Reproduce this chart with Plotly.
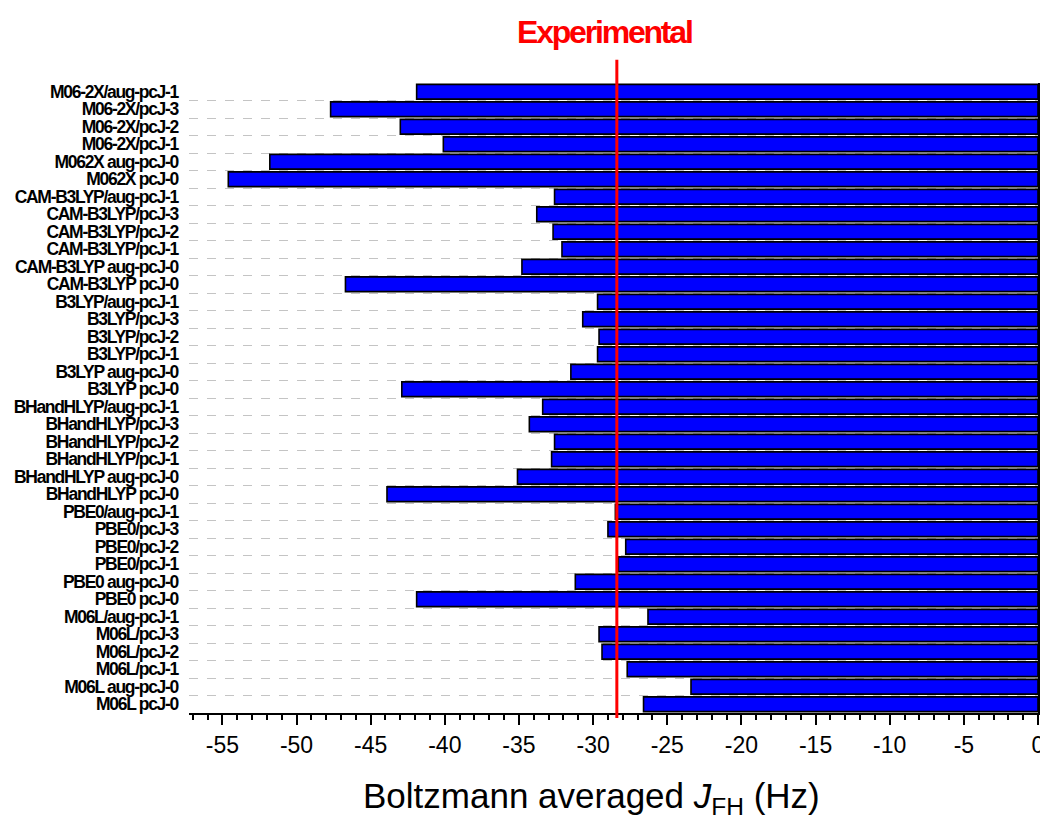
import plotly.graph_objects as go

# Categories, listed top to bottom as in the reference
methods = [
    "M06-2X/aug-pcJ-1", "M06-2X/pcJ-3", "M06-2X/pcJ-2", "M06-2X/pcJ-1", "M062X aug-pcJ-0", "M062X pcJ-0",
    "CAM-B3LYP/aug-pcJ-1", "CAM-B3LYP/pcJ-3", "CAM-B3LYP/pcJ-2", "CAM-B3LYP/pcJ-1", "CAM-B3LYP aug-pcJ-0", "CAM-B3LYP pcJ-0",
    "B3LYP/aug-pcJ-1", "B3LYP/pcJ-3", "B3LYP/pcJ-2", "B3LYP/pcJ-1", "B3LYP aug-pcJ-0", "B3LYP pcJ-0",
    "BHandHLYP/aug-pcJ-1", "BHandHLYP/pcJ-3", "BHandHLYP/pcJ-2", "BHandHLYP/pcJ-1", "BHandHLYP aug-pcJ-0", "BHandHLYP pcJ-0",
    "PBE0/aug-pcJ-1", "PBE0/pcJ-3", "PBE0/pcJ-2", "PBE0/pcJ-1", "PBE0 aug-pcJ-0", "PBE0 pcJ-0",
    "M06L/aug-pcJ-1", "M06L/pcJ-3", "M06L/pcJ-2", "M06L/pcJ-1", "M06L aug-pcJ-0", "M06L pcJ-0",
]

# Boltzmann averaged J_FH (Hz)
j_fh = [
    -41.9, -47.7, -43.0, -40.1, -51.8, -54.6,
    -32.6, -33.8, -32.7, -32.1, -34.8, -46.7,
    -29.7, -30.7, -29.6, -29.7, -31.5, -42.9,
    -33.4, -34.3, -32.6, -32.8, -35.1, -43.9,
    -28.5, -29.0, -27.8, -28.3, -31.2, -41.9,
    -26.3, -29.6, -29.4, -27.7, -23.4, -26.6,
]

experimental = -28.4
x_ticks = [-55, -50, -45, -40, -35, -30, -25, -20, -15, -10, -5, 0]

FONT = '"Liberation Sans", Arial, Helvetica, sans-serif'

fig = go.Figure()
fig.add_trace(go.Bar(
    x=j_fh, y=methods, orientation="h",
    marker=dict(color="#0000FF", line=dict(color="black", width=1.6)),
    width=0.84, showlegend=False, hoverinfo="x+y",
))
# invisible trace to build the y axis drawn at x = 0 (right side)
fig.add_trace(go.Scatter(
    x=[0] * len(methods), y=methods, yaxis="y2", mode="markers",
    marker=dict(opacity=0), showlegend=False, hoverinfo="skip",
))

n = len(methods)
tight_labels = ['<span style="letter-spacing:-1.3px">%s</span>' % m for m in methods]

fig.update_layout(
    width=1040, height=815,
    margin=dict(l=181, r=10, t=75, b=110, autoexpand=False),
    paper_bgcolor="white", plot_bgcolor="white",
    xaxis=dict(
        range=[-57.25, 0], tickmode="array", tickvals=x_ticks, ticktext=[str(v) for v in x_ticks],
        showgrid=False, zeroline=False, automargin=False,
        showline=True, linecolor="black", linewidth=2,
        ticks="outside", ticklen=10, tickwidth=2, tickcolor="black",
        minor=dict(dtick=1, tick0=0, ticks="outside", ticklen=5, tickwidth=1.5, tickcolor="black", showgrid=False),
        tickfont=dict(family=FONT, size=23, color="black"),
        ticklabelstandoff=0,
    ),
    yaxis=dict(
        type="category", categoryorder="array", categoryarray=methods,
        range=[n - 0.5, -0.5], automargin=False,
        tickmode="array", tickvals=methods, ticktext=tight_labels,
        tickson="boundaries", ticks="", showline=False, zeroline=False,
        showgrid=True, gridcolor="#c4c4c4", griddash="dash", gridwidth=1,
        tickfont=dict(family=FONT, size=17.5, color="black", weight="bold"),
        ticklabelstandoff=10,
    ),
    yaxis2=dict(
        type="category", categoryorder="array", categoryarray=methods,
        range=[n - 0.5, -0.5], overlaying="y", side="right", automargin=False,
        tickmode="linear", tick0=0, dtick=1,
        tickson="boundaries", ticks="outside", ticklen=4, tickwidth=1.5, tickcolor="black",
        showticklabels=False, showline=True, linecolor="black", linewidth=2,
        showgrid=False, zeroline=False,
    ),
    shapes=[dict(
        type="line", xref="x", yref="paper", x0=experimental, x1=experimental,
        y0=-0.008, y1=1.037, line=dict(color="#FF0000", width=3),
    )],
    annotations=[
        dict(text='<span style="letter-spacing:-2.2px"><b>Experimental</b></span>',
             xref="x", yref="paper", x=experimental, xshift=-12,
             y=1.0817, xanchor="center", yanchor="middle", showarrow=False,
             font=dict(family=FONT, size=32, color="#FF0000")),
        dict(text="Boltzmann averaged <i>J</i><sub>FH</sub> (Hz)", xref="paper", yref="paper",
             x=0.4744, y=-0.1357, xanchor="center", yanchor="middle", showarrow=False,
             font=dict(family=FONT, size=35, color="black")),
    ],
)

fig.write_html("out.html")
